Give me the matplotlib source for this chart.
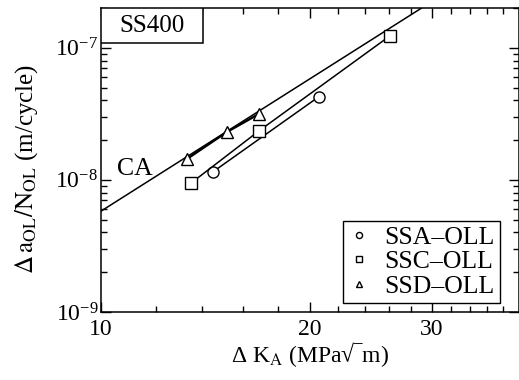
import numpy as np
import matplotlib
matplotlib.use("Agg")
import matplotlib.pyplot as plt
from matplotlib.patches import Rectangle
from matplotlib.ticker import FixedLocator, NullFormatter, LogLocator

plt.rcParams["font.family"] = ["Liberation Serif", "DejaVu Serif"]
plt.rcParams["mathtext.fontset"] = "stix"

# Data
ca_dk = [10.0, 29.0]
ca_rate = [5.8e-9, 2.0e-7]

ssa_dk = [14.5, 20.6]
ssa_rate = [1.15e-8, 4.25e-8]

ssc_dk = [13.5, 16.9, 26.1]
ssc_rate = [9.5e-9, 2.35e-8, 1.23e-7]

ssd_dk = [13.3, 15.2, 16.9]
ssd_rate = [1.44e-8, 2.31e-8, 3.16e-8]

x_major = [10, 20, 30]
x_minor = [12, 14, 16, 18, 22, 24, 26, 28, 32, 34, 36, 38]

fig = plt.figure(figsize=(5.19, 3.80), dpi=100)
ax = fig.add_axes([101 / 519, 68 / 380, 417.5 / 519, 304 / 380])

# CA line
ax.plot(ca_dk, ca_rate, color="black", lw=1.1)

# overload series
ax.plot(ssa_dk, ssa_rate, color="black", lw=1.1, marker="o", ms=8,
        mfc="white", mec="black", mew=1.0)
ax.plot(ssc_dk, ssc_rate, color="black", lw=1.1, marker="s", ms=9,
        mfc="white", mec="black", mew=1.0)
ax.plot(ssd_dk, ssd_rate, color="black", lw=1.7, marker="^", ms=9,
        mfc="white", mec="black", mew=1.0)

ax.set_xscale("log")
ax.set_yscale("log")
ax.set_xlim(10, 40)
ax.set_ylim(1e-9, 2e-7)

ax.xaxis.set_major_locator(FixedLocator(x_major))
ax.xaxis.set_minor_locator(FixedLocator(x_minor))
ax.set_xticklabels([str(v) for v in x_major])
ax.xaxis.set_minor_formatter(NullFormatter())
ax.yaxis.set_major_locator(LogLocator(base=10, numticks=10))
ax.yaxis.set_minor_locator(LogLocator(base=10, subs=np.arange(2, 10), numticks=10))
ax.yaxis.set_minor_formatter(NullFormatter())

ax.tick_params(which="both", direction="in", top=True, right=True,
               labelsize=17, width=1.0, color="black")
ax.tick_params(which="major", length=7)
ax.tick_params(which="minor", length=4)
ax.tick_params(axis="x", pad=5)
ax.tick_params(axis="y", pad=2)
for s in ax.spines.values():
    s.set_linewidth(1.1)

ax.set_xlabel("\u0394 K$_\\mathrm{A}$ (MPa\u221a\u203em)", fontsize=17, labelpad=0)
ax.set_ylabel(r"$\Delta\,\mathrm{a_{OL}/N_{OL}}$ (m/cycle)", fontsize=18)
ax.yaxis.set_label_coords(-0.145, 0.47)

# SS400 box
ax.add_patch(Rectangle((0, 1 - 35 / 304), 102 / 417.5, 35 / 304,
                       transform=ax.transAxes, facecolor="white",
                       edgecolor="black", lw=1.1, zorder=5))
ax.text(51 / 417.5, 1 - 18 / 304, "SS400", transform=ax.transAxes,
        ha="center", va="center", fontsize=18, zorder=6)

ax.text(10.55, 1.2e-8, "CA", fontsize=18.5, ha="left", va="center")

leg = ax.legend([ax.lines[1], ax.lines[2], ax.lines[3]],
                ["SSA\u2013OLL", "SSC\u2013OLL", "SSD\u2013OLL"],
                loc="lower right", bbox_to_anchor=(0.955, 0.03),
                fontsize=18.5, frameon=True, fancybox=False, framealpha=1,
                edgecolor="black", handlelength=0.8, handletextpad=0.6,
                borderpad=0.2, labelspacing=0.05, markerscale=0.55,
                borderaxespad=0)
leg.get_frame().set_linewidth(1.0)
for h in leg.legend_handles:
    h.set_linestyle("none")

fig.savefig("out.png", dpi=100)
